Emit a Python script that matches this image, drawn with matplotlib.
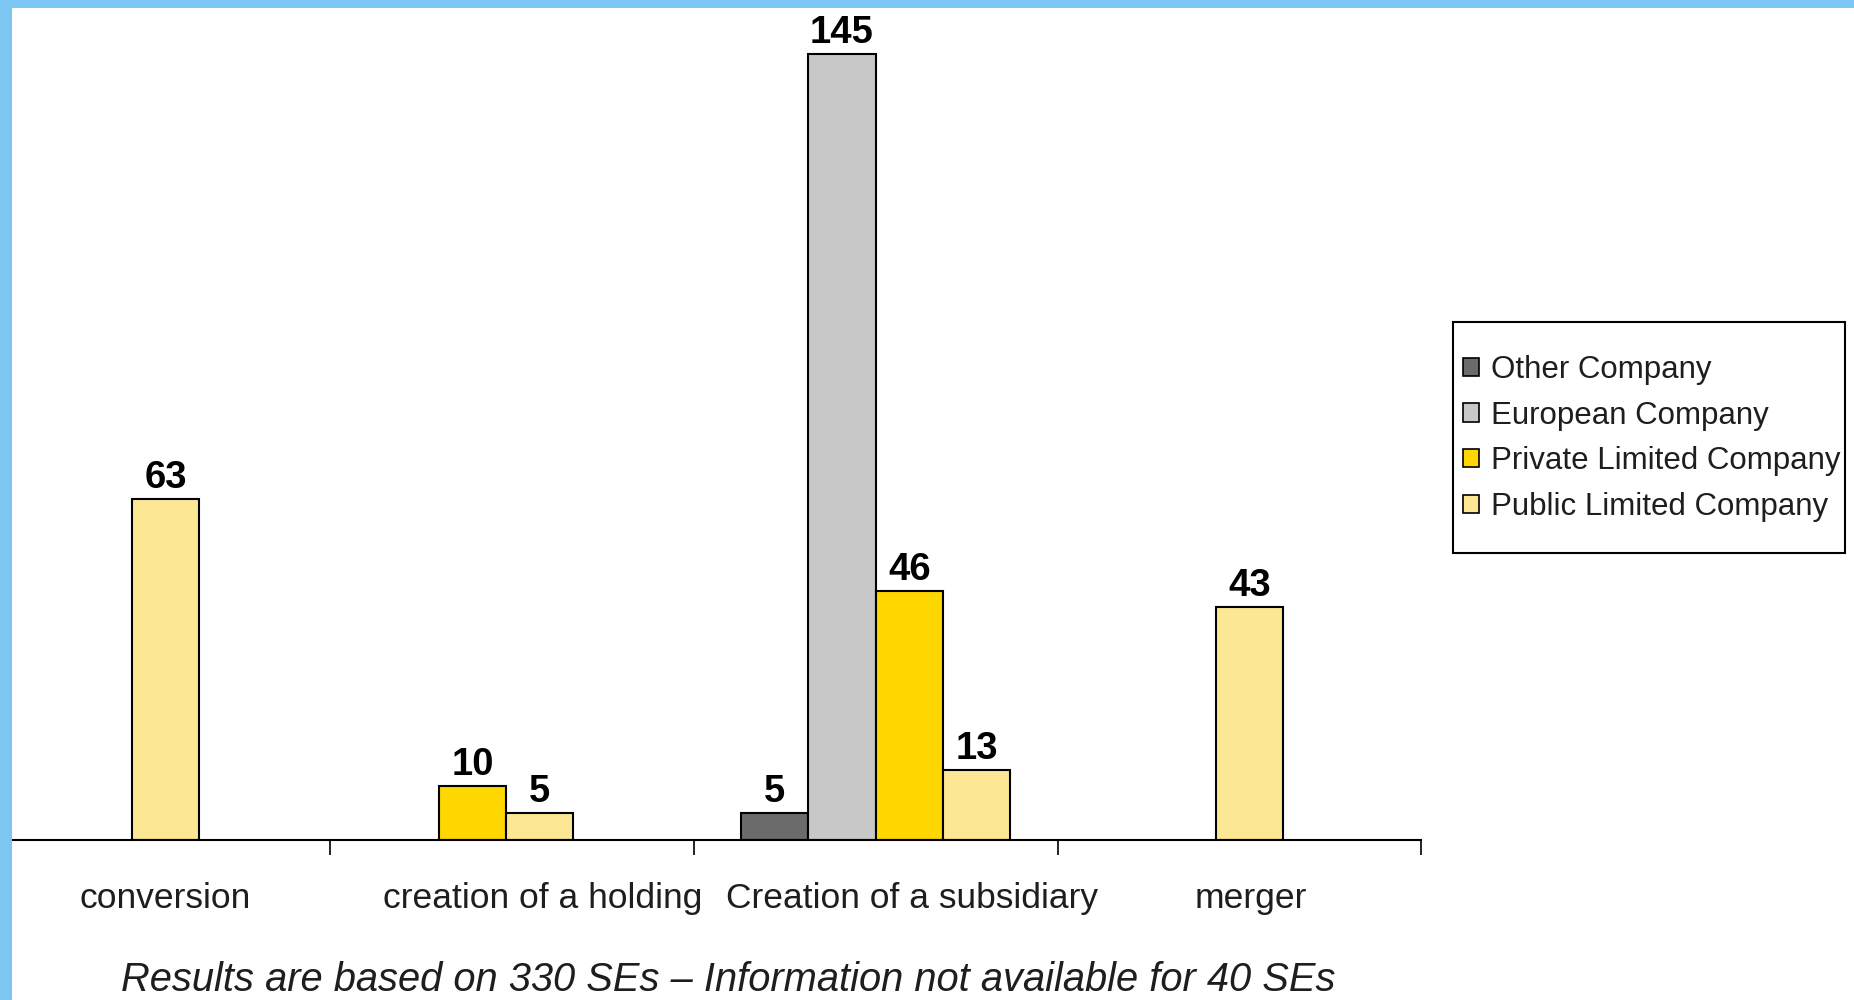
import matplotlib
matplotlib.use("Agg")
import matplotlib.pyplot as plt
from matplotlib.patches import Rectangle, Patch
import numpy as np

# SE formation method by legal form of the founding company
categories = ["conversion", "creation of a holding",
              "Creation of a subsidiary", "merger"]
series = ["Other Company", "European Company",
          "Private Limited Company", "Public Limited Company"]
other_co = [0, 0, 5, 0]
european_co = [0, 0, 145, 0]
private_ltd = [0, 10, 46, 0]
public_ltd = [63, 5, 13, 43]
footnote = "Results are based on 330 SEs \u2013 Information not available for 40 SEs"

colors = ["#6b6b6b", "#c8c8c8", "#ffd700", "#fce794"]
FRAME = "#7cc6f3"
FONT = "Liberation Sans"
TEXT = "#1e1e1e"

# where each group of bars and each category label sits on the x axis
group_centres = [0.548, 1.484, 2.5, 3.528]
label_centres = [0.548, 1.585, 2.599, 3.532]

values = np.array([other_co, european_co, private_ltd, public_ltd])

fig = plt.figure(figsize=(18.54, 10), dpi=100)
fig.patch.set_facecolor("white")
ax = fig.add_axes([0.0065, 0.16, 0.7666 - 0.0065, 0.84])

bar_w = 0.185
for i, cat in enumerate(categories):
    present = [s for s in range(len(series)) if values[s, i] > 0]
    n = len(present)
    for k, s in enumerate(present):
        x = group_centres[i] + (k - (n - 1) / 2) * bar_w
        v = values[s, i]
        ax.bar(x, v, width=bar_w, color=colors[s], edgecolor="black",
               linewidth=1.5, zorder=2)
        ax.annotate(str(v), (x, v), xytext=(0, 2), textcoords="offset points",
                    ha="center", va="bottom", fontsize=27.5, fontweight="bold",
                    family=FONT, color="black")

ax.set_xlim(0.126, 4.0)
ax.set_ylim(0, 155)
for side in ["top", "right", "left"]:
    ax.spines[side].set_visible(False)
ax.spines["bottom"].set_linewidth(1.5)
ax.set_yticks([])

ax.set_xticks([1, 2, 3, 4])
ax.set_xticklabels([])
ax.tick_params(axis="x", which="major", direction="out", length=11,
               width=1.2, color="black")
ax.set_xticks(label_centres, minor=True)
ax.set_xticklabels(categories, minor=True, fontsize=25.5, family=FONT,
                   color=TEXT)
ax.tick_params(axis="x", which="minor", length=0, pad=30)

# legend, with its box drawn separately
handles = [Patch(facecolor=c, edgecolor="black", linewidth=1.2) for c in colors]
leg = fig.legend(handles, series, loc="center left",
                 bbox_to_anchor=(0.7838, 0.5615), frameon=False,
                 prop={"family": FONT, "size": 22.5}, handlelength=0.53,
                 handleheight=0.53, handletextpad=0.38, labelspacing=0.5,
                 borderpad=0.3, borderaxespad=0)
for t in leg.get_texts():
    t.set_color(TEXT)
fig.patches.append(Rectangle((0.7838, 0.4468), 0.9949 - 0.7838, 0.6785 - 0.4468,
                             transform=fig.transFigure, facecolor="none",
                             edgecolor="black", linewidth=1.5, zorder=5))

fig.text(0.393, 0.02, footnote, ha="center", va="center", fontsize=28.7,
         style="italic", family=FONT, color=TEXT)

# light blue frame along the top and left edges
fig.patches.append(Rectangle((0, 0), 0.0065, 1, transform=fig.transFigure,
                             facecolor=FRAME, edgecolor="none", zorder=10))
fig.patches.append(Rectangle((0, 0.992), 1, 0.008, transform=fig.transFigure,
                             facecolor=FRAME, edgecolor="none", zorder=10))

fig.savefig("out.png", dpi=100, facecolor="white")
